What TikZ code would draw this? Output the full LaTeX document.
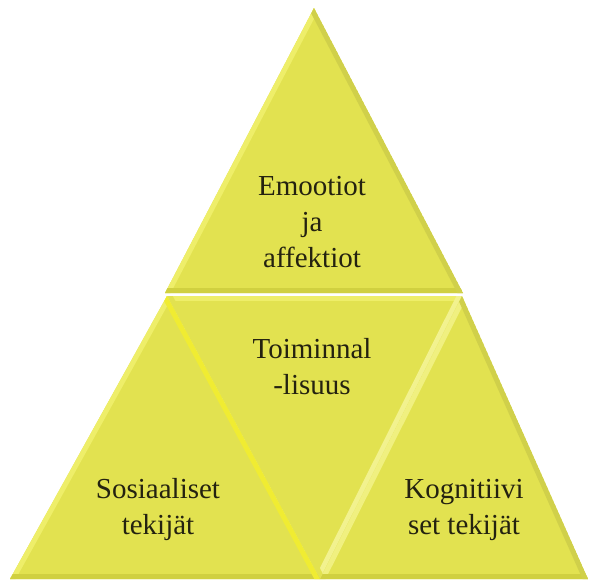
\documentclass[tikz,border=0pt]{standalone}
\usepackage{fontspec}
\setmainfont{Liberation Serif}
\definecolor{face}{RGB}{226,226,80}
\definecolor{lite}{RGB}{238,238,105}
\definecolor{glow}{RGB}{240,236,50}
\definecolor{dim}{RGB}{208,208,64}
\definecolor{ink}{RGB}{36,34,16}
\tikzset{
  label text/.style={font=\fontsize{29}{36}\selectfont, text=ink, align=center, inner sep=0pt},
}
% a flat triangle with a bevelled rim, one shade per edge
\newcommand\bevtri[6]{%
  \begin{scope}
    \clip (#1)--(#2)--(#3)--cycle;
    \fill[face] (#1)--(#2)--(#3)--cycle;
    \draw[line width=10pt, #4] (#1)--(#2);
    \draw[line width=10pt, #5] (#2)--(#3);
    \draw[line width=10pt, #6] (#3)--(#1);
  \end{scope}}
\begin{document}
\begin{tikzpicture}[x=1pt,y=-1pt]
  \useasboundingbox (0,0) rectangle (589,579);
  % corners of the four triangles
  \coordinate (t1) at (314,8);   \coordinate (t2) at (165,293); \coordinate (t3) at (463,293);
  \coordinate (l1) at (167,296); \coordinate (l2) at (10,579);  \coordinate (l3) at (320,579);
  \coordinate (m1) at (167,296); \coordinate (m2) at (462,296); \coordinate (m3) at (320,579);
  \coordinate (r1) at (462,296); \coordinate (r2) at (320,579); \coordinate (r3) at (588,579);

  \bevtri{t1}{t2}{t3}{lite}{dim}{face!92!black}
  \bevtri{m1}{m2}{m3}{lite}{lite!75!white}{face}
  \bevtri{r1}{r2}{r3}{lite!85!white}{dim}{face!92!black}
  \bevtri{l1}{l2}{l3}{lite}{dim}{glow}

  \node[label text] (emo) at (312,222) {Emootiot\\ja\\affektiot};
  \node[label text] (toi) at (312,367) {Toiminnal\\-lisuus};
  \node[label text] (sos) at (158,510) {Sosiaaliset\\tekijät};
  \node[label text] (kog) at (464,510) {Kognitiivi\\set tekijät};
\end{tikzpicture}
\end{document}
